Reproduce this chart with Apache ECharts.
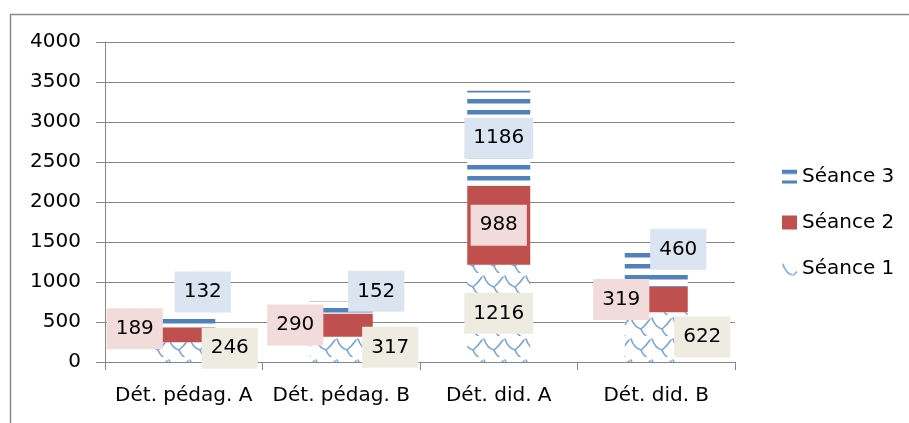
<!DOCTYPE html>
<html>
<head>
<meta charset="utf-8">
<script src="https://cdn.jsdelivr.net/npm/echarts@6/dist/echarts.min.js"></script>
<style>
html,body{margin:0;padding:0;background:#fff;}
#chart{width:909px;height:423px;}
</style>
</head>
<body>
<div id="chart"></div>
<script>
// ---- data ----
const categories = ['Dét. pédag. A', 'Dét. pédag. B', 'Dét. did. A', 'Dét. did. B'];
const seriesNames = ['Séance 1', 'Séance 2', 'Séance 3'];
const seance1 = [246, 317, 1216, 622];
const seance2 = [189, 290, 988, 319];
const seance3 = [132, 152, 1186, 460];
const yMin = 0, yMax = 4000, yStep = 500;

// ---- layout (label offsets from segment centre, px) ----
const off1 = [[46, -4], [49, -2], [0, 0], [46, 0]];
const off2 = [[-49, -6], [-46, 0], [0, 0], [-35, 0]];
const off3 = [[19, -30], [35, -16], [0, 0], [22, -19]];

const FONT = '"DejaVu Sans", sans-serif';
const BLUE = '#4F81BD';

function stripePattern() {
  const c = document.createElement('canvas');
  c.width = 8; c.height = 11;
  const g = c.getContext('2d');
  g.fillStyle = '#fff'; g.fillRect(0, 0, 8, 11);
  g.fillStyle = BLUE; g.fillRect(0, 0, 8, 4);
  g.fillStyle = '#A9C1DF'; g.fillRect(0, 4, 8, 1);
  return c;
}
function scalePattern() {
  const c = document.createElement('canvas');
  c.width = 21; c.height = 21;
  const g = c.getContext('2d');
  g.fillStyle = '#fff'; g.fillRect(0, 0, 21, 21);
  g.strokeStyle = '#7AA5D8'; g.lineWidth = 1.6; g.lineCap = 'round';
  g.beginPath();
  g.moveTo(1, 3);
  g.quadraticCurveTo(4, 12, 11, 14);
  g.quadraticCurveTo(16, 10, 20, 4);
  g.stroke();
  g.beginPath();
  g.moveTo(11, 14);
  g.quadraticCurveTo(13, 19, 16, 21);
  g.stroke();
  return c;
}

const labelBase = {
  show: true,
  position: 'inside',
  color: '#000',
  fontSize: 20,
  fontFamily: FONT,
  lineHeight: 21,
  padding: [10, 9, 10, 9]
};

function build(vals, offs) {
  return vals.map((v, i) => ({ value: v, label: { offset: offs[i] } }));
}

const chart = echarts.init(document.getElementById('chart'), null, { renderer: 'canvas' });
chart.setOption({
  animation: false,
  backgroundColor: '#fff',
  graphic: [{
    type: 'rect', left: 8, top: 12, z: -1,
    shape: { x: 0, y: 0, width: 1000, height: 1000 },
    style: { fill: 'none', stroke: '#8a8a8a', lineWidth: 1.5 }
  }],
  grid: { left: 105, right: 174, top: 42, bottom: 61, containLabel: false },
  legend: {
    orient: 'vertical',
    left: 777,
    top: 161,
    icon: 'rect',
    itemWidth: 15,
    itemHeight: 14,
    itemGap: 25,
    data: ['Séance 3', 'Séance 2', 'Séance 1'],
    textStyle: { color: '#000', fontSize: 20, fontFamily: FONT, lineHeight: 21 }
  },
  xAxis: {
    type: 'category',
    data: categories,
    axisLine: { show: true, lineStyle: { color: '#868686', width: 1 } },
    axisTick: { show: true, length: 8, lineStyle: { color: '#868686' } },
    axisLabel: { color: '#000', fontSize: 20, fontFamily: FONT, margin: 24, interval: 0 }
  },
  yAxis: {
    type: 'value',
    min: yMin, max: yMax, interval: yStep,
    axisLine: { show: true, lineStyle: { color: '#868686', width: 1 } },
    axisTick: { show: true, length: 9, lineStyle: { color: '#868686' } },
    axisLabel: { color: '#000', fontSize: 20, fontFamily: FONT, margin: 24, formatter: v => String(v) },
    splitLine: { show: true, lineStyle: { color: '#868686', width: 1 } }
  },
  series: [
    {
      name: seriesNames[0], type: 'bar', stack: 'total', barWidth: '40%',
      itemStyle: { color: { image: scalePattern(), repeat: 'repeat' } },
      label: Object.assign({}, labelBase, { backgroundColor: '#EEECE1' }),
      data: build(seance1, off1)
    },
    {
      name: seriesNames[1], type: 'bar', stack: 'total', barWidth: '40%',
      itemStyle: { color: '#C0504D' },
      label: Object.assign({}, labelBase, { backgroundColor: '#F2DCDB' }),
      data: build(seance2, off2)
    },
    {
      name: seriesNames[2], type: 'bar', stack: 'total', barWidth: '40%',
      itemStyle: { color: { image: stripePattern(), repeat: 'repeat' } },
      label: Object.assign({}, labelBase, { backgroundColor: '#DBE5F1' }),
      data: build(seance3, off3)
    }
  ]
});
</script>
</body>
</html>
